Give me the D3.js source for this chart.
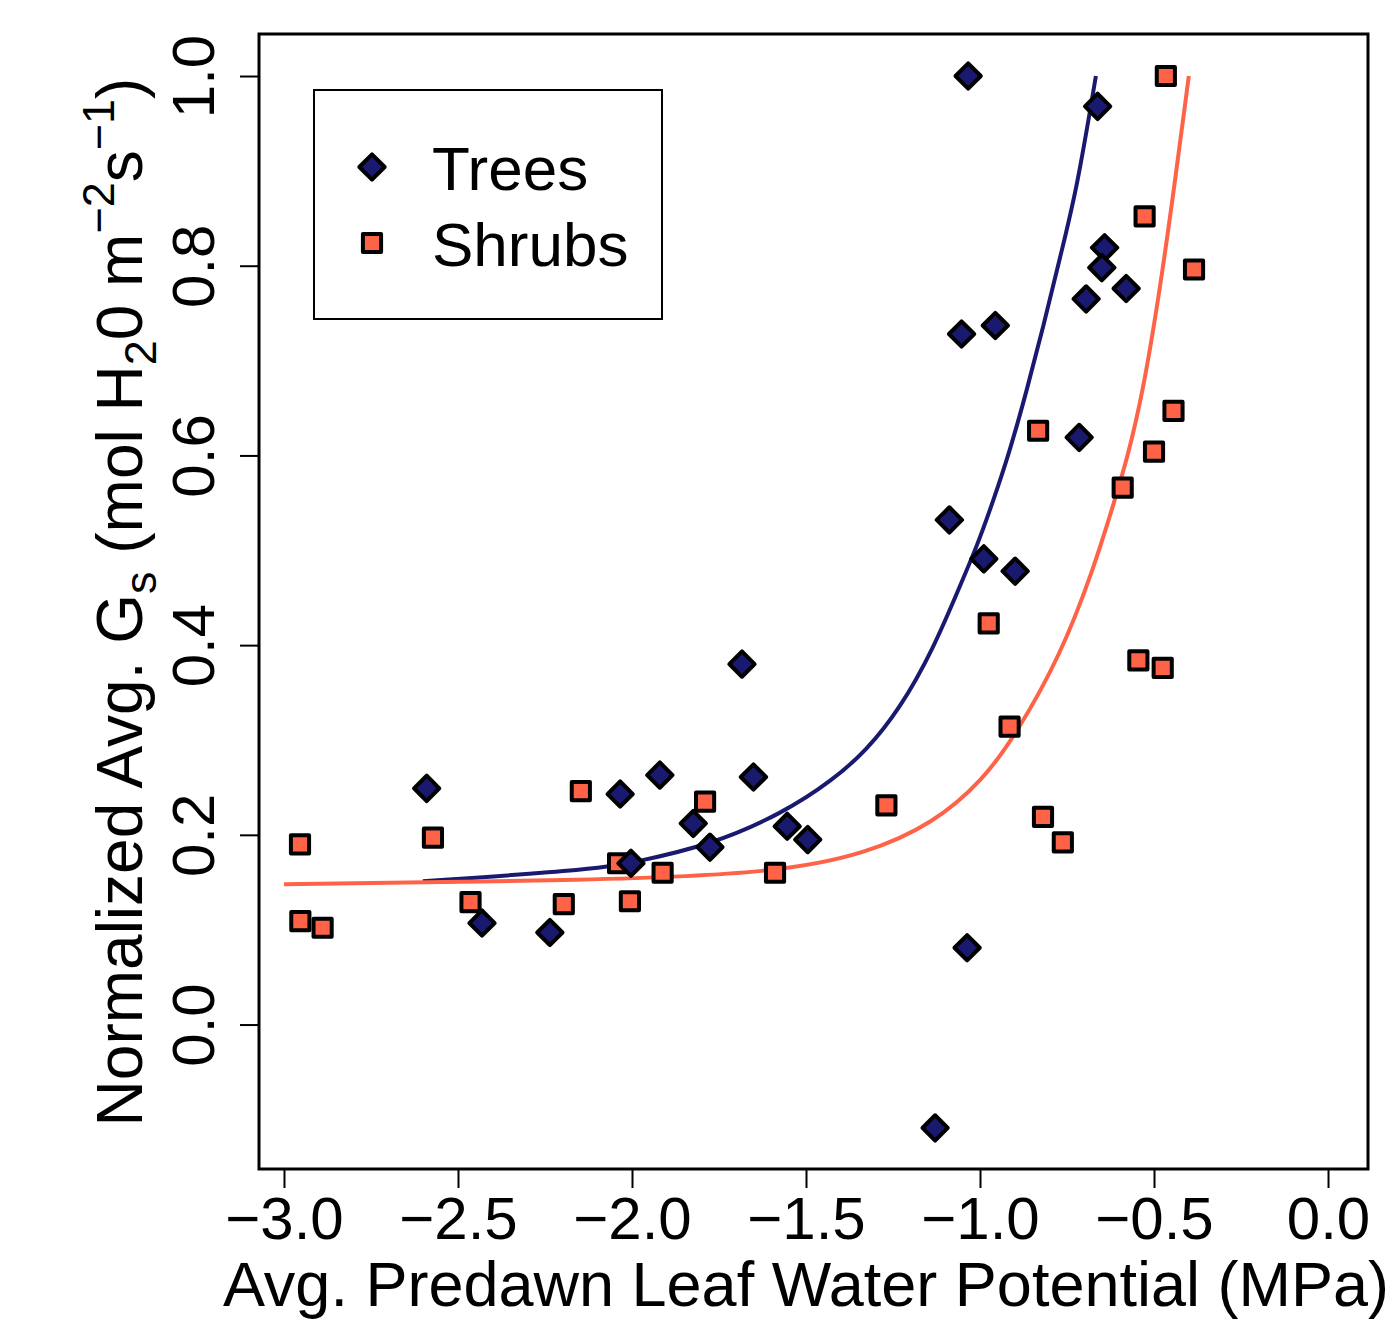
<!DOCTYPE html>
<html>
<head>
<meta charset="utf-8">
<script src="https://cdn.jsdelivr.net/npm/d3@7"></script>
<style>
body { margin: 0; background: #fff; }
svg text { font-family: "Liberation Sans", Arial, Helvetica, sans-serif; fill: #000; }
</style>
</head>
<body>
<svg id="drawing_region"></svg>
<script>
// trees (diamonds)
const treeX = [-1.034, -0.662, -0.642, -0.650, -0.695, -0.580, -1.053, -0.956, -0.715, -1.088,
               -0.989, -0.899, -1.684, -2.590, -2.034, -1.920, -1.651, -1.824, -1.776, -1.554,
               -1.495, -2.003, -2.431, -2.236, -1.037, -1.129];
const treeY = [1.000, 0.968, 0.819, 0.798, 0.765, 0.776, 0.728, 0.737, 0.619, 0.532,
               0.491, 0.478, 0.380, 0.249, 0.243, 0.263, 0.261, 0.212, 0.187, 0.209,
               0.195, 0.170, 0.107, 0.097, 0.081, -0.109];

// shrubs (squares)
const shrubX = [-0.466, -0.527, -0.385, -0.444, -0.833, -0.500, -0.590, -0.975, -0.545, -0.475,
                -0.915, -1.269, -0.819, -0.762, -2.954, -2.572, -2.953, -2.889, -2.464, -2.196,
                -2.147, -1.790, -2.040, -2.006, -1.912, -1.589];
const shrubY = [1.000, 0.852, 0.796, 0.647, 0.626, 0.604, 0.566, 0.423, 0.384, 0.376,
                0.314, 0.231, 0.219, 0.192, 0.190, 0.197, 0.109, 0.102, 0.129, 0.127,
                0.246, 0.235, 0.170, 0.130, 0.160, 0.160];

// fitted curves
const treeFitX = [-2.601, -2.092, -1.996, -1.776, -1.565, -1.422, -1.326, -1.230, -1.134, -1.057,
                  -1.009, -0.962, -0.914, -0.866, -0.818, -0.770, -0.722, -0.667];
const treeFitY = [0.151, 0.164, 0.171, 0.189, 0.223, 0.258, 0.289, 0.333, 0.396, 0.463,
                  0.504, 0.552, 0.605, 0.668, 0.736, 0.809, 0.880, 1.000];
const shrubFitX = [-3.000, -2.092, -1.587, -1.326, -1.134, -0.990, -0.895, -0.770, -0.674, -0.617,
                   -0.578, -0.531, -0.483, -0.444, -0.400];
const shrubFitY = [0.148, 0.152, 0.160, 0.180, 0.212, 0.258, 0.307, 0.388, 0.480, 0.548,
                   0.595, 0.668, 0.775, 0.877, 1.000];

const xTicks = [-3.0, -2.5, -2.0, -1.5, -1.0, -0.5, 0.0];
const yTicks = [0.0, 0.2, 0.4, 0.6, 0.8, 1.0];
const legendLabels = ["Trees", "Shrubs"];

const treeColor = "#191970";
const shrubColor = "#FF6347";

const width = 1394, height = 1322;
const box = {left: 259, right: 1368, top: 34, bottom: 1169};

const svg = d3.select("#drawing_region")
    .attr("width", width)
    .attr("height", height);

const xscale = d3.scaleLinear()
    .domain([-3.0718, 0.1149])
    .range([box.left, box.right]);

const yscale = d3.scaleLinear()
    .domain([-0.1523, 1.0443])
    .range([box.bottom, box.top]);

const fmt = d => d3.format(".1f")(d).replace("-", "\u2212");

// axes
const xaxis = d3.axisBottom(xscale)
    .tickValues(xTicks)
    .tickSize(19)
    .tickFormat(fmt);

const xaxis_group = svg.append("g")
    .attr("transform", `translate(0, ${box.bottom})`)
    .call(xaxis);
xaxis_group.select(".domain").remove();
xaxis_group.selectAll("line").attr("stroke", "#000").attr("stroke-width", 2);
xaxis_group.selectAll("text")
    .attr("font-size", 60)
    .attr("y", 70)
    .attr("dy", 0)
    .attr("font-family", null);

const yaxis = d3.axisLeft(yscale)
    .tickValues(yTicks)
    .tickSize(19)
    .tickFormat(fmt);

const yaxis_group = svg.append("g")
    .attr("transform", `translate(${box.left}, 0)`)
    .call(yaxis);
yaxis_group.select(".domain").remove();
yaxis_group.selectAll("line").attr("stroke", "#000").attr("stroke-width", 2);
yaxis_group.selectAll("text")
    .attr("font-size", 60)
    .attr("x", null)
    .attr("dy", 0)
    .attr("text-anchor", "middle")
    .attr("font-family", null)
    .attr("transform", "translate(-45, 0) rotate(-90)");

// frame
svg.append("rect")
    .attr("x", box.left)
    .attr("y", box.top)
    .attr("width", box.right - box.left)
    .attr("height", box.bottom - box.top)
    .attr("fill", "none")
    .attr("stroke", "#000")
    .attr("stroke-width", 3);

// fitted curves
const line = d3.line()
    .x(d => xscale(d[0]))
    .y(d => yscale(d[1]))
    .curve(d3.curveBasis);

svg.append("path")
    .datum(treeFitX.map((x, i) => [x, treeFitY[i]]))
    .attr("d", line)
    .attr("fill", "none")
    .attr("stroke", treeColor)
    .attr("stroke-width", 4);

svg.append("path")
    .datum(shrubFitX.map((x, i) => [x, shrubFitY[i]]))
    .attr("d", line)
    .attr("fill", "none")
    .attr("stroke", shrubColor)
    .attr("stroke-width", 4);

// points
const diamond = d3.symbol().type(d3.symbolSquare).size(320);
const square = d3.symbol().type(d3.symbolSquare).size(330);

svg.append("g").selectAll("path")
    .data(shrubX.map((x, i) => [x, shrubY[i]]))
    .enter()
    .append("path")
    .attr("d", square)
    .attr("transform", d => `translate(${xscale(d[0])}, ${yscale(d[1])})`)
    .attr("fill", shrubColor)
    .attr("stroke", "#000")
    .attr("stroke-width", 4)
    .attr("stroke-linejoin", "round");

svg.append("g").selectAll("path")
    .data(treeX.map((x, i) => [x, treeY[i]]))
    .enter()
    .append("path")
    .attr("d", diamond)
    .attr("transform", d => `translate(${xscale(d[0])}, ${yscale(d[1])}) rotate(45)`)
    .attr("fill", treeColor)
    .attr("stroke", "#000")
    .attr("stroke-width", 4)
    .attr("stroke-linejoin", "round");

// legend
const legend = svg.append("g");
legend.append("rect")
    .attr("x", 314).attr("y", 90)
    .attr("width", 348).attr("height", 229)
    .attr("fill", "#fff")
    .attr("stroke", "#000")
    .attr("stroke-width", 2);

legend.append("path")
    .attr("d", diamond)
    .attr("transform", "translate(372, 167) rotate(45)")
    .attr("fill", treeColor).attr("stroke", "#000")
    .attr("stroke-width", 4).attr("stroke-linejoin", "round");
legend.append("path")
    .attr("d", square)
    .attr("transform", "translate(372, 243)")
    .attr("fill", shrubColor).attr("stroke", "#000")
    .attr("stroke-width", 4).attr("stroke-linejoin", "round");

legend.selectAll("text.lab")
    .data(legendLabels)
    .enter()
    .append("text")
    .attr("class", "lab")
    .attr("x", 432)
    .attr("y", (d, i) => 190 + i * 76)
    .attr("font-size", 62)
    .text(d => d);

// axis titles
svg.append("text")
    .attr("x", 806)
    .attr("y", 1306)
    .attr("text-anchor", "middle")
    .attr("font-size", 63)
    .text("Avg. Predawn Leaf Water Potential (MPa)");

const ylab = svg.append("text")
    .attr("transform", "translate(142, 602) rotate(-90)")
    .attr("text-anchor", "middle")
    .attr("font-size", 64);
const parts = [
    ["Normalized Avg. G", 64, 0],
    ["s", 45, 14],
    [" (mol H", 64, -14],
    ["2", 45, 14],
    ["0 m", 64, -14],
    ["\u22122", 45, -28],
    ["s", 64, 28],
    ["\u22121", 45, -28],
    [")", 64, 28]
];
parts.forEach(p => {
    ylab.append("tspan")
        .attr("font-size", p[1])
        .attr("dy", p[2])
        .text(p[0]);
});
</script>
</body>
</html>
